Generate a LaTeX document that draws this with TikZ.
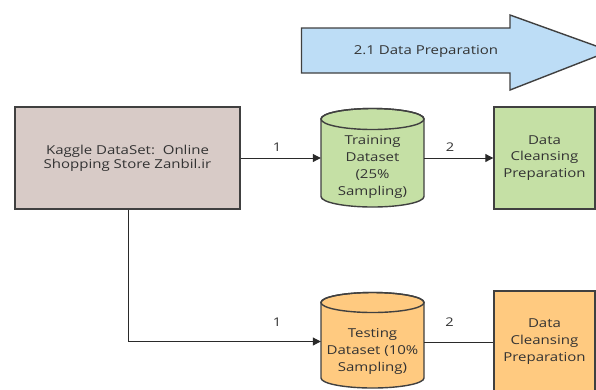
\documentclass[tikz,border=0pt]{standalone}
\usepackage{fontspec}
\setmainfont[FakeStretch=1.22]{Open Sans}
\usetikzlibrary{arrows.meta}
\definecolor{edgecol}{HTML}{404040}
\definecolor{linecol}{HTML}{2A2A2A}
\definecolor{txtcol}{HTML}{333333}
\definecolor{kagfill}{HTML}{D8CBC7}
\definecolor{grnfill}{HTML}{C5E0A5}
\definecolor{orgfill}{HTML}{FFCA80}
\definecolor{blufill}{HTML}{BDDDF6}
\tikzset{
  shapeedge/.style={draw=edgecol, line width=1.4pt},
  boxnode/.style={shapeedge, rectangle, align=center, text=txtcol, inner sep=0pt},
  txtnode/.style={align=center, text=txtcol, inner sep=0pt},
  ghost/.style={rectangle, inner sep=0pt},
  conn/.style={draw=linecol, line width=1pt, -{Triangle[length=8pt,width=8pt]}},
  plainconn/.style={draw=linecol, line width=1pt},
  lbl/.style={text=txtcol, inner sep=0pt, font=\fontsize{12}{14}\selectfont}
}
\begin{document}
\begin{tikzpicture}[x=1pt,y=-1pt]
\useasboundingbox (0,0) rectangle (596,389);
\clip (0,0) rectangle (596,389);
% big arrow
\draw[shapeedge, fill=blufill] (301.5,28) -- (510,28) -- (510,15) -- (610,51) -- (510,90) -- (510,73) -- (301.5,73) -- cycle;
\node[txtnode, font=\fontsize{12.3}{14}\selectfont] (phase) at (426,51.5) {2.1 Data Preparation};
% Kaggle box
\node[boxnode, fill=kagfill, minimum width=225pt, minimum height=102pt,
      font=\fontsize{12.3}{14}\selectfont] (kaggle) at (127.5,158) {Kaggle DataSet:\ \ Online\\Shopping Store Zanbil.ir};
% Training cylinder
\draw[shapeedge, fill=grnfill] (321,119) -- (321,196.5) arc[start angle=180, end angle=360, x radius=51.5pt, y radius=10.5pt] -- (424,119) arc[start angle=0, end angle=180, x radius=51.5pt, y radius=10.5pt] -- cycle;
\draw[shapeedge] (372.5,119) ellipse[x radius=51.5pt, y radius=10.5pt];
\node[ghost, minimum width=103pt, minimum height=99pt] (train) at (372.5,158) {};
\node[txtnode, font=\fontsize{12.3}{17.3}\selectfont] (traintxt) at (372.5,167) {Training\\Dataset\\(25\%\\Sampling)};
% Green box
\node[boxnode, fill=grnfill, minimum width=101pt, minimum height=102pt,
      font=\fontsize{12.3}{16.8}\selectfont] (cleanA) at (544.5,158) {Data\\Cleansing\\Preparation};
% Testing cylinder
\draw[shapeedge, fill=orgfill] (321,302.5) -- (321,378) arc[start angle=180, end angle=360, x radius=51.5pt, y radius=10pt] -- (424,302.5) arc[start angle=0, end angle=180, x radius=51.5pt, y radius=10pt] -- cycle;
\draw[shapeedge] (372.5,302.5) ellipse[x radius=51.5pt, y radius=10pt];
\node[ghost, minimum width=103pt, minimum height=96pt] (test) at (372.5,340) {};
\node[txtnode, font=\fontsize{12.3}{17.3}\selectfont] (testtxt) at (372.5,351.5) {Testing\\Dataset (10\%\\Sampling)};
% Orange box
\node[boxnode, fill=orgfill, minimum width=101pt, minimum height=102pt,
      font=\fontsize{12.3}{17}\selectfont] (cleanB) at (544.5,342) {Data\\Cleansing\\Preparation};
% connectors
\draw[conn] (kaggle.east |- 0,158) -- (train.west |- 0,158);
\draw[conn] (train.east |- 0,158) -- (cleanA.west |- 0,158);
\coordinate (bend) at (128.3,341.5);
\draw[conn] (kaggle.south -| bend) -- (bend) -- (test.west |- bend);
\draw[plainconn] (test.east |- 0,342) -- (cleanB.west |- 0,342);
% labels
\node[lbl] (l1a) at (277,147) {1};
\node[lbl] (l2a) at (450,147) {2};
\node[lbl] (l1b) at (277,322) {1};
\node[lbl] (l2b) at (449.5,322) {2};
\end{tikzpicture}
\end{document}
